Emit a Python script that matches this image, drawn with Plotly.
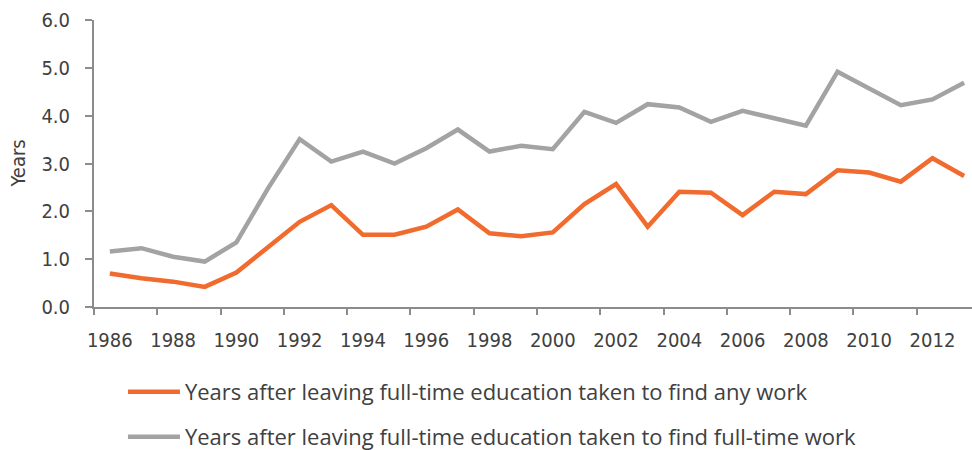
import plotly.graph_objects as go

# Survey years
years = [str(y) for y in range(1986, 2014)]

# Years after leaving full-time education taken to find any work
any_work = [0.70, 0.60, 0.53, 0.42, 0.72, 1.26, 1.78, 2.13, 1.51, 1.51,
            1.68, 2.04, 1.54, 1.48, 1.56, 2.15, 2.57, 1.68, 2.41, 2.39,
            1.92, 2.41, 2.36, 2.86, 2.81, 2.62, 3.11, 2.74]

# Years after leaving full-time education taken to find full-time work
full_time_work = [1.16, 1.23, 1.05, 0.95, 1.35, 2.48, 3.51, 3.04, 3.25, 3.00,
                  3.32, 3.71, 3.25, 3.37, 3.30, 4.08, 3.85, 4.24, 4.17, 3.87,
                  4.10, 3.95, 3.79, 4.92, 4.57, 4.22, 4.34, 4.69]

name_any = "Years after leaving full-time education taken to find any work"
name_full = "Years after leaving full-time education taken to find full-time work"
y_title = "Years"

ORANGE = "#F26B2E"
GREY = "#A3A3A3"
AXIS = "#8C8C8C"
TEXT = "#404040"
TICK_FONT = "DejaVu Sans Condensed, DejaVu Sans, sans-serif"
LEGEND_FONT = "Open Sans, sans-serif"

fig = go.Figure()
fig.add_trace(go.Scatter(x=years, y=any_work, mode="lines", name=name_any,
                         legend="legend",
                         line=dict(color=ORANGE, width=4.5)))
fig.add_trace(go.Scatter(x=years, y=full_time_work, mode="lines", name=name_full,
                         legend="legend2",
                         line=dict(color=GREY, width=4.5)))

legend_style = dict(xref="container", yref="container",
                    xanchor="left", yanchor="middle",
                    orientation="v", itemwidth=52,
                    font=dict(family=LEGEND_FONT, size=22, color=TEXT),
                    bgcolor="rgba(0,0,0,0)", borderwidth=0)

fig.update_layout(
    width=972, height=450,
    margin=dict(l=94, r=0, t=20, b=143, autoexpand=False),
    paper_bgcolor="white", plot_bgcolor="white",
    showlegend=True,
    legend=dict(x=0.1265, y=1 - 392 / 450, **legend_style),
    legend2=dict(x=0.1265, y=1 - 437 / 450, **legend_style),
    xaxis=dict(type="category", range=[-0.5, 27.25],
               tickmode="linear", tick0=0, dtick=2, tickson="boundaries",
               tickangle=0, ticklabelstandoff=14,
               ticks="outside", ticklen=6, tickwidth=2, tickcolor=AXIS,
               showline=True, linecolor=AXIS, linewidth=2,
               showgrid=False, zeroline=False,
               tickfont=dict(family=TICK_FONT, size=20, color=TEXT)),
    yaxis=dict(range=[0, 6], tickmode="linear", tick0=0, dtick=1,
               tickformat=".1f", ticklabelstandoff=11,
               ticks="outside", ticklen=7, tickwidth=2, tickcolor=AXIS,
               showline=True, linecolor=AXIS, linewidth=2,
               showgrid=False, zeroline=False,
               tickfont=dict(family=TICK_FONT, size=20, color=TEXT)),
    annotations=[dict(text=y_title, textangle=-90, showarrow=False,
                      xref="paper", yref="paper", x=-0.0866, y=0.5,
                      xanchor="center", yanchor="middle",
                      font=dict(family=TICK_FONT, size=20, color=TEXT))],
)

fig.write_html("out.html")
